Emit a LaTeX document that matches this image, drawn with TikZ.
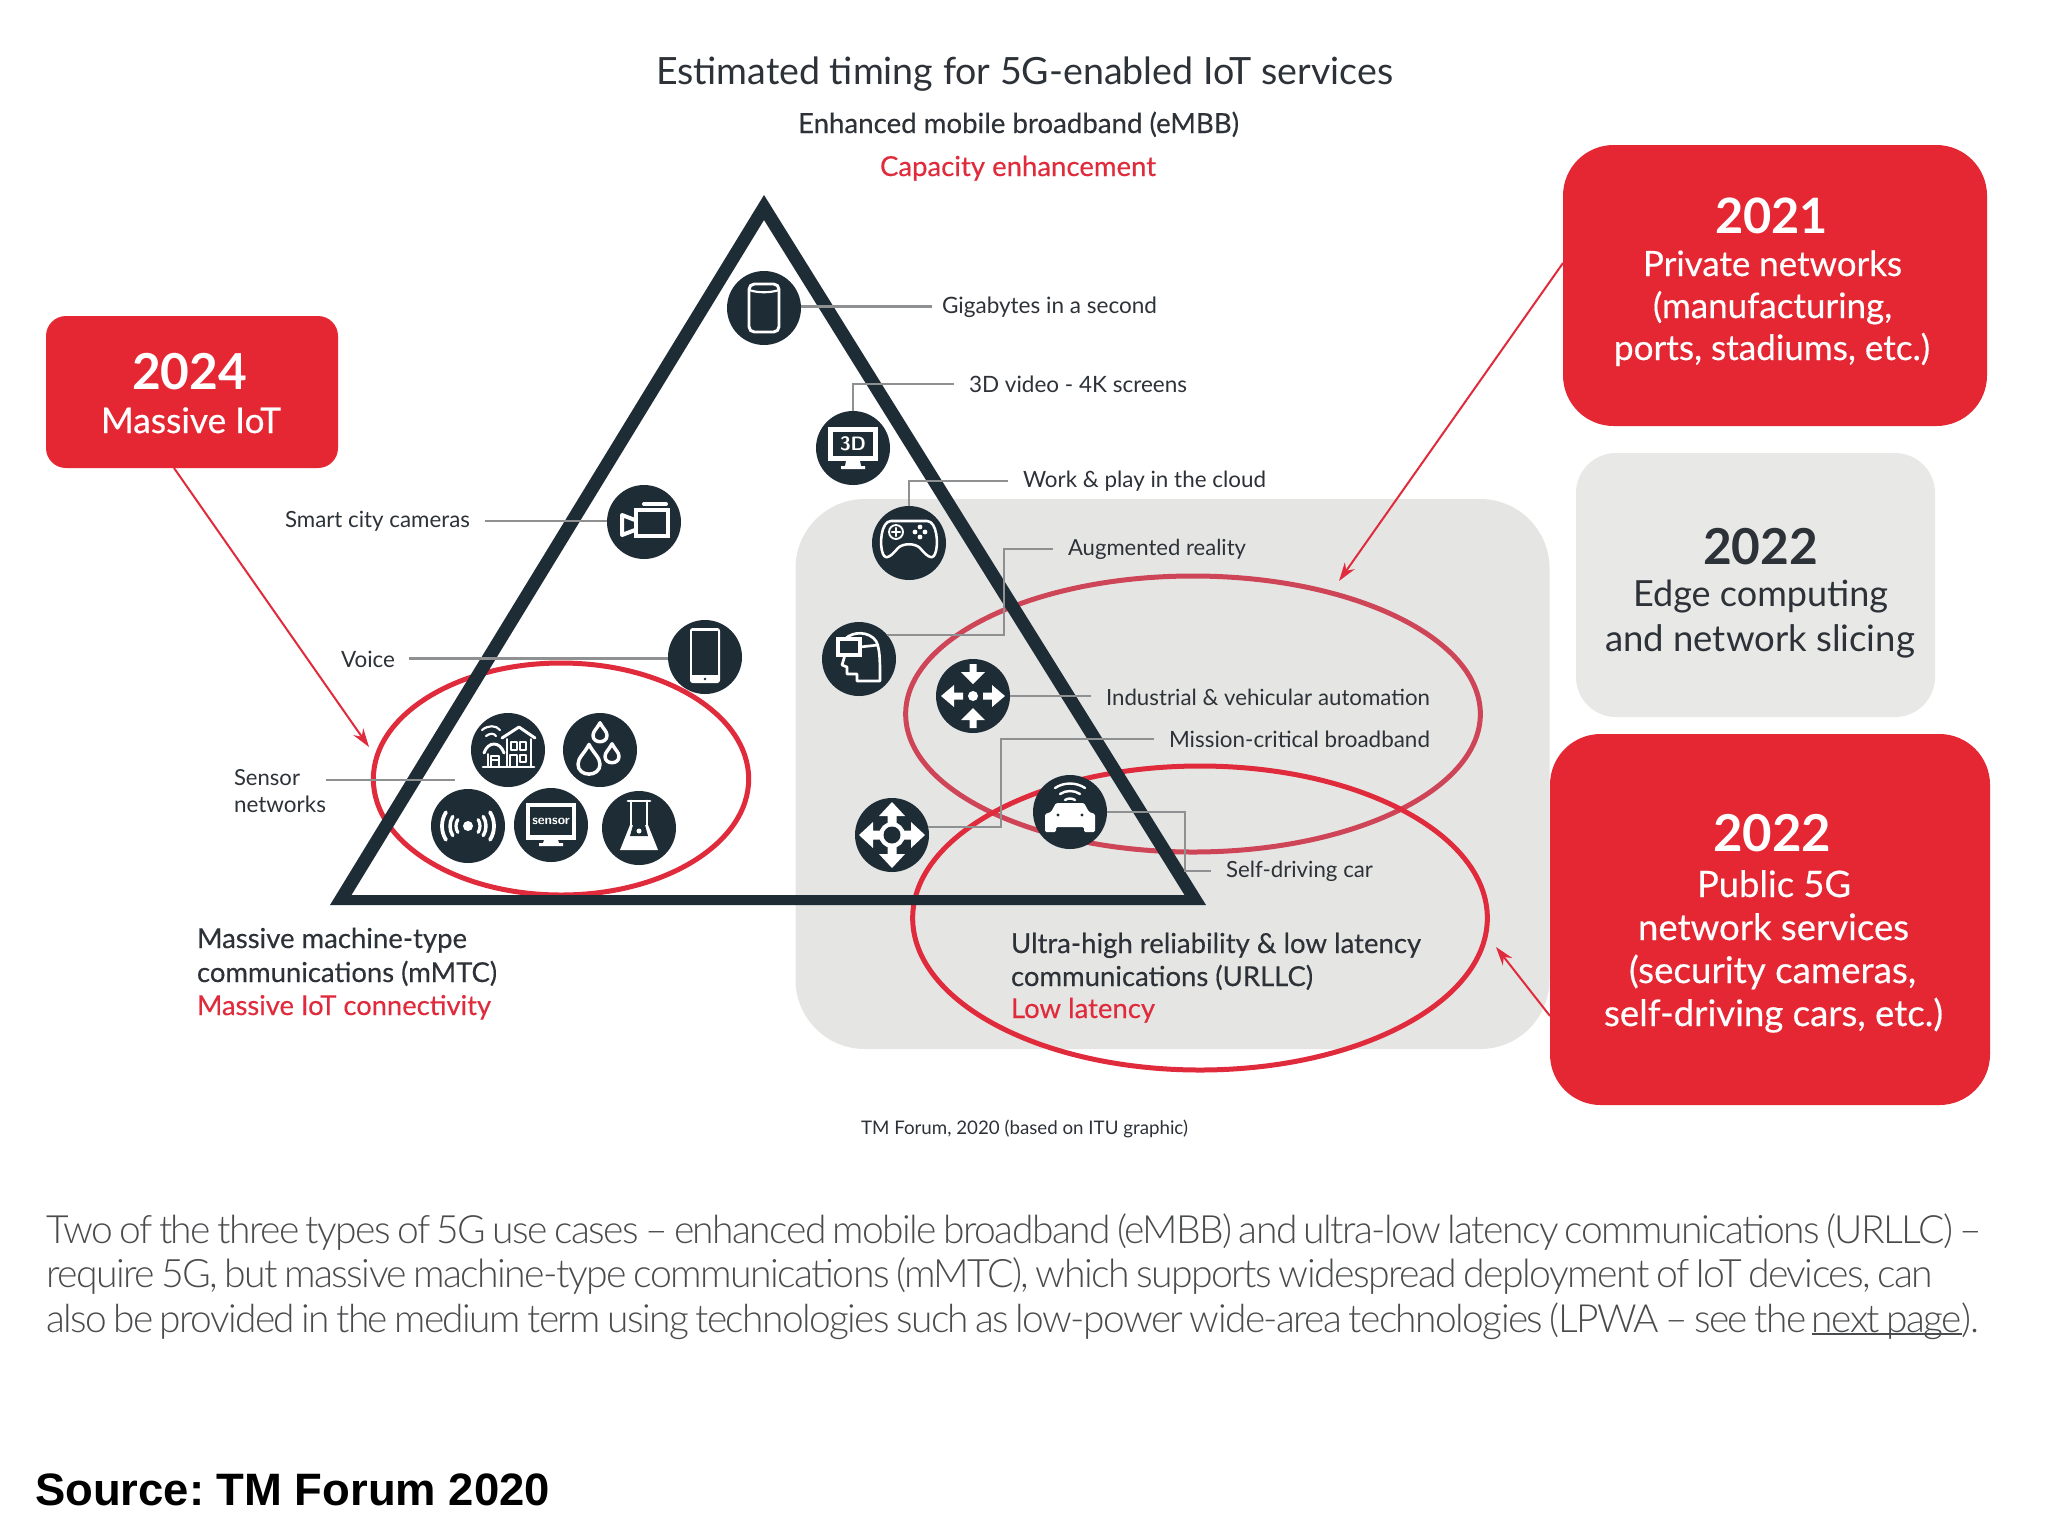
\documentclass[tikz,border=0pt]{standalone}
\usepackage{fontspec}
\usepackage{graphicx}
\setmainfont{Lato}
\newfontfamily\srcfont{Liberation Sans}
\newfontfamily\latolt{Lato Light}[LetterSpace=-4,WordSpace=0.7]
\usetikzlibrary{arrows.meta,shapes.geometric,calc}
\definecolor{navy}{HTML}{1E2C36}
\definecolor{redb}{HTML}{E52733}
\definecolor{redl}{HTML}{E02B3C}
\definecolor{redm}{HTML}{CF4558}
\definecolor{panel}{HTML}{E5E6E4}
\definecolor{panelb}{HTML}{E8E8E7}
\definecolor{ink}{HTML}{2D3238}
\definecolor{wire}{HTML}{8E9091}
\definecolor{para}{HTML}{4A4B4D}
\frenchspacing
\newcommand{\fw}[2]{\resizebox{\dimexpr #1pt*3/4\relax}{!}{#2}}
\newcommand{\lab}[6][txt]{\node[#1] (#2) at (#3,#4) {\fw{#5}{#6}};}
\newsavebox{\linkbox}
\newcommand{\linktext}[1]{\sbox{\linkbox}{#1}\rlap{\rule[-0.7pt]{\wd\linkbox}{0.35pt}}\usebox{\linkbox}}
\tikzset{
 txt/.style={anchor=base west,inner sep=0pt,outer sep=0pt,text=ink},
 redt/.style={txt,text=redl},
 wht/.style={txt,text=white},
 bld/.style={txt,font=\bfseries},
 whtb/.style={wht,font=\bfseries},
 para/.style={txt,text=para,font=\latolt},
 disc/.style={circle,fill=navy,minimum size=55.5pt,inner sep=0pt,outer sep=0pt},
 rbox/.style={fill=redb,inner sep=0pt,outer sep=0pt},
 gbox/.style={fill=panelb,inner sep=0pt,outer sep=0pt},
 ring/.style={ellipse,draw=redl,line width=3.75pt,inner sep=0pt,outer sep=0pt},
 conn/.style={draw=wire,line width=1.5pt,shorten >=11pt},
 connb/.style={draw=wire,line width=2.2pt},
 call/.style={draw=redl,line width=1.5pt,-{Stealth[length=14pt,width=9pt]}},
 iw/.style={draw=white,line width=2.2pt,line cap=round,line join=round},
 ifl/.style={fill=white},
 idk/.style={fill=navy},
}
\newcommand{\droplet}[3]{\begin{scope}[shift={(#1,#2)},scale=#3]
 \draw[iw,line width=2.6pt] (0,-1.6) .. controls (.4,-.8) and (1,-.4) .. (1,.2) .. controls (1,.8) and (.5,1.1) .. (0,1.1) .. controls (-.5,1.1) and (-1,.8) .. (-1,.2) .. controls (-1,-.4) and (-.4,-.8) .. (0,-1.6) -- cycle;
\end{scope}}
\begin{document}
\begin{tikzpicture}[x=0.75pt,y=-0.75pt]
\useasboundingbox (0,0) rectangle (2048,1536);
\fill[white] (0,0) rectangle (2048,1536);

% panel
\node[fill=panel,rounded corners=52pt,minimum width=565.5pt,minimum height=412.5pt,inner sep=0pt,outer sep=0pt] (panel) at (1172.5,774) {};

% ellipses
\node[ring,minimum width=281.5pt,minimum height=174pt] (ringL) at (561,779) {};
\node[ring,draw=redm,minimum width=431pt,minimum height=207pt] (ringU) at (1193,714) {};
\node[ring,minimum width=431pt,minimum height=228pt] (ringD) at (1200,918) {};

% triangle
\coordinate (oA) at (764,195);
\coordinate (oL) at (330,905);
\coordinate (oR) at (1206,905);
\coordinate (iA) at (764,220);
\coordinate (iL) at (351.5,895);
\coordinate (iR) at (1184.5,895);
\fill[navy,even odd rule] (oA) -- (oL) -- (oR) -- cycle (iA) -- (iL) -- (iR) -- cycle;

% boxes
\node[rbox,rounded corners=15pt,minimum width=219pt,minimum height=114pt] (box24) at (192,392) {};
\node[rbox,rounded corners=38pt,minimum width=318pt,minimum height=210.75pt] (box21) at (1775,285.5) {};
\node[gbox,rounded corners=30pt,minimum width=269.25pt,minimum height=198pt] (box22g) at (1755.5,585) {};
\node[rbox,rounded corners=38pt,minimum width=330pt,minimum height=278.25pt] (box22r) at (1770,919.5) {};

% discs
\node[disc] (cgig) at (764,308) {};
\node[disc] (c3d) at (853,448) {};
\node[disc] (ccam) at (644,522) {};
\node[disc] (cgame) at (909,543) {};
\node[disc] (cph) at (705,657) {};
\node[disc] (cvr) at (859,659) {};
\node[disc] (caut) at (973,696) {};
\node[disc] (cmove) at (892,835) {};
\node[disc] (ccar) at (1070,812) {};
\node[disc] (chouse) at (508,750) {};
\node[disc] (cdrop) at (600,750) {};
\node[disc] (csig) at (468,826) {};
\node[disc] (csens) at (551,825) {};
\node[disc] (cflask) at (639,828) {};

% top text
\lab{title}{656}{84}{737}{Estimated timing for 5G-enabled IoT services}
\lab{embb}{798}{133}{441}{\addfontfeature{FakeBold=0.3}Enhanced mobile broadband (eMBB)}
\lab[redt]{cap}{880}{176}{276}{\addfontfeature{FakeBold=0.3}Capacity enhancement}

% labels
\lab{Lgig}{942}{313}{215}{Gigabytes in a second}
\lab{L3d}{969}{392}{218}{3D video - 4K screens}
\lab{Lwork}{1023}{487}{243}{Work \& play in the cloud}
\lab{Lar}{1068}{555}{178}{Augmented reality}
\lab{Lind}{1106}{705}{324}{Industrial \& vehicular automation}
\lab{Lmis}{1169}{747}{261}{Mission-critical broadband}
\lab{Lself}{1226}{877}{147}{Self-driving car}
\lab{Lsmart}{285}{527}{185}{Smart city cameras}
\lab{Lvoice}{341}{667}{54}{Voice}
\lab{Lsens}{234}{785}{66}{Sensor}
\lab{Lnet}{234}{812}{92}{networks}
\lab{mm1}{197}{948}{270}{\addfontfeature{FakeBold=0.3}Massive machine-type}
\lab{mm2}{197}{982}{300}{\addfontfeature{FakeBold=0.3}communications (mMTC)}
\lab[redt]{mm3}{197}{1015}{294}{\addfontfeature{FakeBold=0.3}Massive IoT connectivity}
\lab{ur1}{1011}{953}{410}{\addfontfeature{FakeBold=0.3}Ultra-high reliability \& low latency}
\lab{ur2}{1011}{986}{302}{\addfontfeature{FakeBold=0.3}communications (URLLC)}
\lab[redt]{ur3}{1011}{1018}{144}{\addfontfeature{FakeBold=0.3}Low latency}
\lab{tmf}{861}{1134}{327}{TM Forum, 2020 (based on ITU graphic)}

% box text
\lab[whtb]{y24}{132}{389}{115}{2024}
\lab[wht]{t24}{101}{433}{180}{\addfontfeature{FakeBold=0.4}Massive IoT}
\lab[whtb]{y21}{1715}{233}{113}{2021}
\lab[wht]{t21a}{1643}{276}{259}{\addfontfeature{FakeBold=0.4}Private networks}
\lab[wht]{t21b}{1653}{318}{239}{\addfontfeature{FakeBold=0.4}(manufacturing,}
\lab[wht]{t21c}{1614}{360}{316}{\addfontfeature{FakeBold=0.4}ports, stadiums, etc.)}
\lab[bld]{y22g}{1703}{564}{115}{2022}
\lab{t22a}{1633}{606}{255}{Edge computing}
\lab{t22b}{1605}{651}{310}{and network slicing}
\lab[whtb]{y22r}{1713}{851}{118}{2022}
\lab[wht]{t22c}{1697}{897}{154}{\addfontfeature{FakeBold=0.4}Public 5G}
\lab[wht]{t22d}{1638}{940}{271}{\addfontfeature{FakeBold=0.4}network services}
\lab[wht]{t22e}{1629}{983}{287}{\addfontfeature{FakeBold=0.4}(security cameras,}
\lab[wht]{t22f}{1604}{1026}{339}{\addfontfeature{FakeBold=0.4}self-driving cars, etc.)}

% paragraph
\lab[para]{p1}{46}{1243}{1935}{Two of the three types of 5G use cases – enhanced mobile broadband (eMBB) and ultra-low latency communications (URLLC) –}
\lab[para]{p2}{46}{1287}{1886}{require 5G, but massive machine-type communications (mMTC), which supports widespread deployment of IoT devices, can}
\lab[para]{p3}{46}{1332}{1933}{also be provided in the medium term using technologies such as low-power wide-area technologies (LPWA – see the \linktext{next page}).}
\lab[txt,text=black,font=\srcfont\bfseries]{src}{35}{1505}{515}{Source: TM Forum 2020}

% connectors
\coordinate (eAR) at (1004,0);
\coordinate (eMis) at (1001,0);
\coordinate (eCar) at (1185,0);
\coordinate (eSens) at (455,780);
\draw[connb,shorten >=7.5pt] (cgig.east |- Lgig.west) -- (Lgig.west);
\draw[conn] (c3d.north) |- (L3d.west);
\draw[conn] (cgame.north) |- (Lwork.west);
\draw[conn] (cvr.40) -| (eAR |- Lar.west) -- (Lar.west);
\draw[connb,shorten >=11pt] (caut.east) -- (caut.east -| Lind.west);
\draw[conn] (cmove.12) -| (eMis |- Lmis.west) -- (Lmis.west);
\draw[conn] (ccar.east) -| (eCar |- Lself.west) -- (Lself.west);
\draw[draw=wire,line width=1.5pt,shorten <=11pt] (Lsmart.east) -- (ccam.west |- Lsmart.east);
\draw[connb,shorten <=10.5pt] (Lvoice.east) -- (cph.west |- Lvoice.east);
\draw[connb,shorten <=19.5pt] (Lsens.east |- eSens) -- (eSens);

% callouts
\coordinate (a24) at (174,468);
\coordinate (t24) at (369,747);
\coordinate (a21) at (1563,263);
\coordinate (t21) at (1339,581);
\coordinate (a22) at (1550,1016);
\coordinate (t22) at (1496,947);
\draw[call] (a24) -- (t24);
\draw[call] (a21) -- (t21);
\draw[call] (a22) -- (t22);

% icons
\begin{scope}[shift={(cgig.center)}]
 \draw[iw,rounded corners=4pt] (-15,-24) rectangle (15,24);
 \draw[iw,line width=1.6pt] (-15,-18) .. controls (-6,-15) and (6,-15) .. (15,-18);
\end{scope}
\begin{scope}[shift={(c3d.center)}]
 \fill[ifl] (-25,-21) rectangle (25,13);
 \fill[idk] (-20,-16) rectangle (20,8);
 \fill[ifl] (-7,13) -- (7,13) -- (8,18) -- (12,18) -- (12,21) -- (-12,21) -- (-12,18) -- (-8,18) -- cycle;
 \node[text=white,font=\sffamily\bfseries,inner sep=0pt,scale=1.45] (t3d) at (0,-4) {3D};
\end{scope}
\begin{scope}[shift={(ccam.center)}]
 \draw[iw,line width=3.4pt,line cap=butt,line join=miter] (-8,-12) rectangle (24,14);
 \draw[iw,line width=3pt] (-9,-2) -- (-22,-7) -- (-22,13) -- (-9,8);
 \draw[iw,line width=3pt] (0,-18) -- (22,-18);
\end{scope}
\begin{scope}[shift={(cgame.center)}]
 \draw[iw,line width=1.9pt] (-18,-22) -- (18,-22) .. controls (28,-22) and (30,2) .. (26,11) .. controls (23,18) and (17,12) .. (11,5) .. controls (6,0) and (-6,0) .. (-11,5) .. controls (-17,12) and (-23,18) .. (-26,11) .. controls (-30,2) and (-28,-22) .. (-18,-22) -- cycle;
 \draw[iw,line width=1.4pt] (-13,-11) circle (7);
 \draw[iw,line width=1.6pt] (-17,-11) -- (-9,-11) (-13,-15) -- (-13,-7);
 \foreach \p in {(11,-16),(11,-6),(6,-11),(16,-11)} \fill[white] \p circle (2.4);
\end{scope}
\begin{scope}[shift={(cph.center)}]
 \fill[ifl] (-15,-29) [rounded corners=2pt] rectangle (15,26);
 \fill[idk] (-13,-26) rectangle (13,18);
 \fill[idk] (0,22) circle (1.3);
\end{scope}
\begin{scope}[shift={(cvr.center)}]
 \draw[iw,line width=2pt] (-14,-20) .. controls (-6,-28) and (10,-28) .. (17,-18) .. controls (21,-10) and (21,0) .. (21,22) -- (-2,22) -- (-2,15) -- (-12,15) -- (-12,8) -- (-17,6) -- (-14,-4);
 \draw[iw,line width=3pt,line cap=butt,line join=miter] (-21,-20) rectangle (1,-4);
 \draw[iw,line width=2pt] (1,-12) -- (19,-14);
\end{scope}
\begin{scope}[shift={(caut.center)}]
 \fill[white] (0,0) circle (5);
 \foreach \a in {0,180}
  \fill[white,rotate=\a] (-3.5,-32) -- (3.5,-32) -- (3.5,-24) -- (12,-24) -- (0,-12) -- (-12,-24) -- (-3.5,-24) -- cycle;
 \foreach \a in {90,270}
  \fill[white,rotate=\a] (0,-32) -- (11,-19) -- (3.5,-19) -- (3.5,-10) -- (-3.5,-10) -- (-3.5,-19) -- (-11,-19) -- cycle;
\end{scope}
\begin{scope}[shift={(cmove.center)}]
 \foreach \a in {0,90,180,270}
  \fill[white,rotate=\a] (0,-33) -- (13,-19) -- (4.5,-19) -- (4.5,-9) -- (-4.5,-9) -- (-4.5,-19) -- (-13,-19) -- cycle;
 \fill[white] (0,0) circle (13);
 \fill[navy] (0,0) circle (8.5);
\end{scope}
\begin{scope}[shift={(ccar.center)}]
 \draw[iw,line width=1.8pt] (-15,-24) .. controls (-6,-30) and (6,-30) .. (15,-24);
 \draw[iw,line width=1.8pt] (-10,-18) .. controls (-4,-22) and (4,-22) .. (10,-18);
 \draw[iw,line width=1.8pt] (-5,-12) .. controls (-2,-14) and (2,-14) .. (5,-12);
 \fill[white,rounded corners=1pt] (-14,-9) -- (14,-9) -- (19,0) -- (25,2) -- (25,20) -- (14,20) -- (14,15) -- (-14,15) -- (-14,20) -- (-25,20) -- (-25,2) -- (-19,0) -- cycle;
 \fill[navy] (-12,3) circle (1.6) (12,3) circle (1.6);
\end{scope}
\begin{scope}[shift={(chouse.center)}]
 \draw[iw,line width=1.6pt] (-26,-20) .. controls (-20,-25) and (-12,-25) .. (-8,-20);
 \draw[iw,line width=1.6pt] (-22,-14) .. controls (-18,-17) and (-14,-17) .. (-12,-14);
 \draw[iw] (-6,-12) -- (11,-23) -- (27,-12);
 \draw[iw,line width=1.5pt] (-1,-11) -- (-1,17) (23,-11) -- (23,17);
 \draw[iw,line width=1.4pt] (3,-8) rectangle (9,0) (12,-8) rectangle (18,0) (2,5) rectangle (9,17) (12,5) rectangle (18,12);
 \draw[iw] (-24,3) .. controls (-20,-9) and (-8,-9) .. (-4,3);
 \draw[iw,line width=1.5pt] (-20,4) -- (-20,17);
 \draw[iw,line width=1.4pt] (-17,6) rectangle (-9,17) (-17,10) -- (-9,10);
 \draw[iw] (-25,17) -- (26,17);
\end{scope}
\begin{scope}[shift={(cdrop.center)}]
 \droplet{0}{-16}{7}
 \droplet{12}{5}{7}
 \droplet{-11}{12}{11}
\end{scope}
\begin{scope}[shift={(csig.center)}]
 \fill[white] (0,0) circle (5);
 \foreach \r/\w in {12/2.4,18/2.6,26/2.8}{
  \draw[iw,line width=\w pt] (-32:\r) arc (-32:32:\r);
  \draw[iw,line width=\w pt] (148:\r) arc (148:212:\r);
 }
\end{scope}
\begin{scope}[shift={(csens.center)}]
 \fill[ifl] (-25,-22) rectangle (25,15);
 \fill[idk] (-21,-18) rectangle (21,10);
 \fill[ifl] (-7,15) -- (7,15) -- (8,18) -- (12,18) -- (12,21) -- (-12,21) -- (-12,18) -- (-8,18) -- cycle;
 \node[text=white,font=\sffamily\bfseries,inner sep=0pt,scale=1] (tsens) at (0,-4) {sensor};
\end{scope}
\begin{scope}[shift={(cflask.center)}]
 \draw[iw] (-11,-27) -- (11,-27);
 \draw[iw] (-8,-27) -- (-8,-2) (8,-27) -- (8,-2);
 \fill[white] (-9,-3) -- (-19,22) -- (19,22) -- (9,-3) -- cycle;
 \fill[navy] (-6,-3) -- (6,-3) -- (9,8) -- (-9,8) -- cycle;
 \fill[white] (0,3) circle (2.5);
\end{scope}
\end{tikzpicture}
\end{document}
